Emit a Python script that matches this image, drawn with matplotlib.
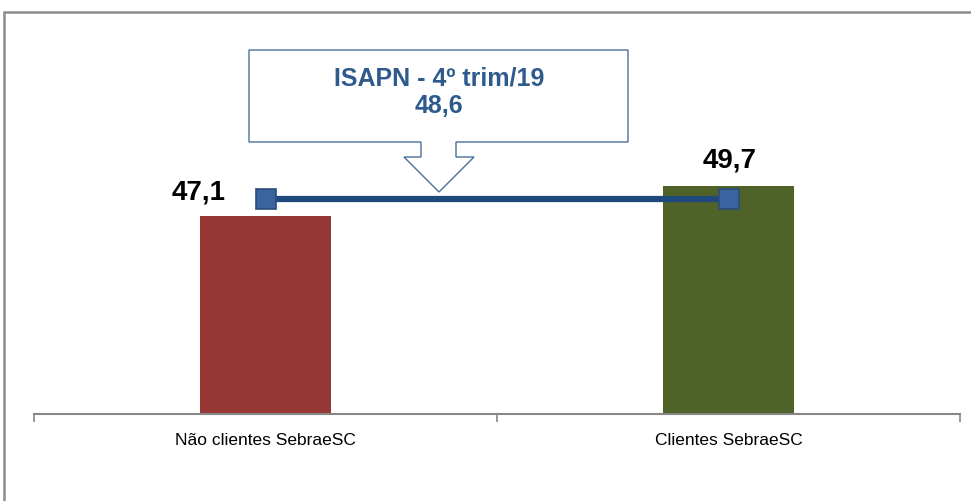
import matplotlib.pyplot as plt
from matplotlib.patches import Polygon, Rectangle

# dados
categorias = ['Não clientes SebraeSC', 'Clientes SebraeSC']
valores = [47.1, 49.7]
rotulos = ['47,1', '49,7']
cores = ['#953735', '#4F6228']
isapn = 48.6
isapn_titulo = 'ISAPN - 4º trim/19'
isapn_rotulo = '48,6'

fonte = ['Liberation Sans Narrow', 'Liberation Sans', 'DejaVu Sans']
plt.rcParams['font.family'] = fonte

fig = plt.figure(figsize=(9.71, 5.01), dpi=100)
W, H = 971, 501
ax = fig.add_axes([34 / W, 1 - 414 / H, (960 - 34) / W, (414 - 67) / H])

x = list(range(len(categorias)))
ax.bar(x, valores, width=0.285, color=cores, zorder=2)
ax.set_xlim(-0.5, 1.5)
ax.set_ylim(30, 60)

# linha do ISAPN entre as barras
ax.plot(x, [isapn] * len(x), color='#1F497D', lw=4.5, zorder=3,
        marker='s', markersize=14, markerfacecolor='#3A64A0',
        markeredgecolor='#2C4D7A', markeredgewidth=1.2)

# rótulos das barras
ax.annotate(rotulos[0], (x[0], valores[0]), xytext=(-48, 8), textcoords='offset points',
            ha='center', va='bottom', fontsize=20, fontweight='bold')
ax.annotate(rotulos[1], (x[1], valores[1]), xytext=(1, 9), textcoords='offset points',
            ha='center', va='bottom', fontsize=20, fontweight='bold')

# eixos
for s in ['left', 'right', 'top']:
    ax.spines[s].set_visible(False)
ax.spines['bottom'].set_color('#868686')
ax.spines['bottom'].set_linewidth(1.5)
ax.set_yticks([])
ax.set_xticks([-0.5, 0.5, 1.5], minor=False)
ax.set_xticklabels([])
ax.tick_params(axis='x', length=6, color='#868686', width=1.2)
ax.set_xticks(x, minor=True)
ax.set_xticklabels(categorias, minor=True, fontsize=12.5)
ax.tick_params(axis='x', which='minor', length=0, pad=14)

# balão com seta (coordenadas de pixel da figura)
def px(xp, yp):
    return (xp / W, 1 - yp / H)

pts = [px(249, 50), px(628, 50), px(628, 142), px(456, 142), px(456, 157),
       px(474, 157), px(439, 192), px(404, 157), px(421, 157), px(421, 142),
       px(249, 142)]
fig.patches.append(Polygon(pts, closed=True, transform=fig.transFigure,
                           facecolor='white', edgecolor='#4A6E99', lw=1, zorder=5))
fig.text(439 / W, 1 - 79 / H, isapn_titulo, ha='center', va='center',
         fontsize=18, fontweight='bold', color='#2E5A8C', zorder=6)
fig.text(439 / W, 1 - 106 / H, isapn_rotulo, ha='center', va='center',
         fontsize=18, fontweight='bold', color='#2E5A8C', zorder=6)

# moldura
fig.patches.append(Rectangle(px(4, 600), 1.2, (600 - 12) / H, transform=fig.transFigure,
                             fill=False, edgecolor='#8C8C8C', lw=1.8))

fig.savefig('out.png', dpi=100)
